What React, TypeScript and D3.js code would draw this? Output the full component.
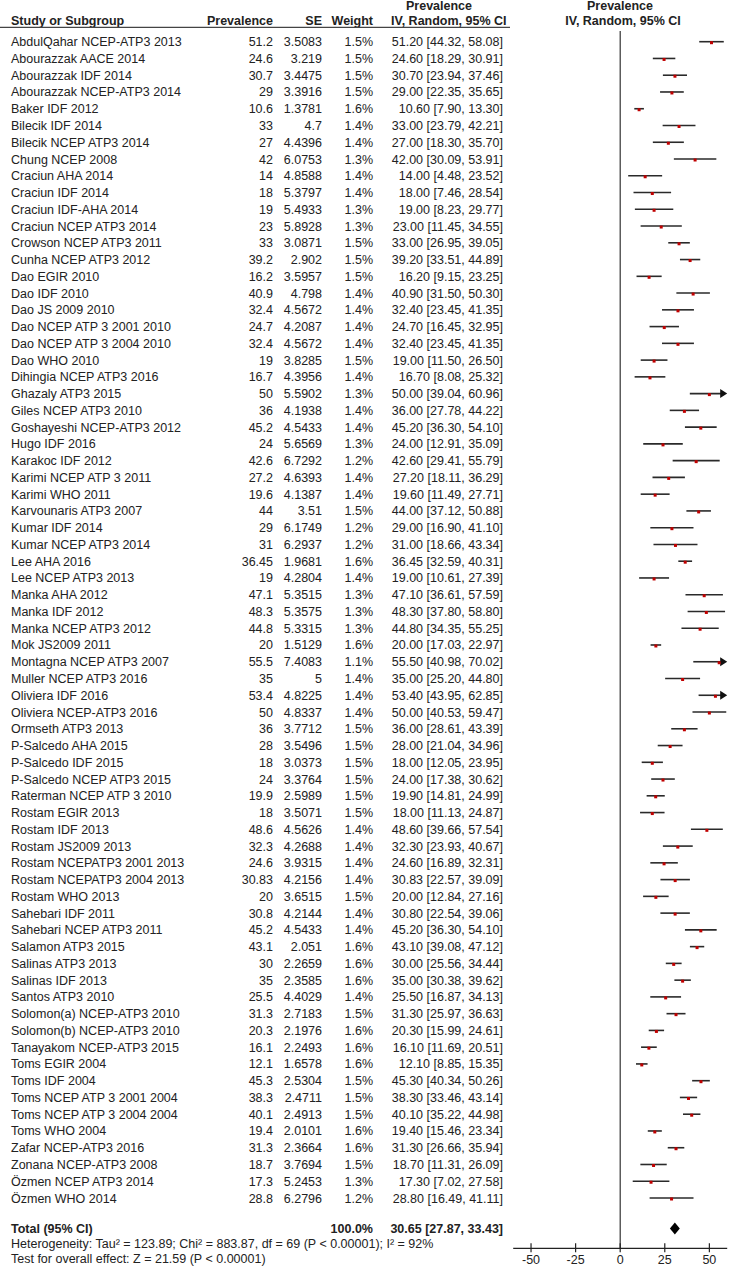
import React from "react";
import * as d3 from "d3";

const studies = [
  "AbdulQahar NCEP-ATP3 2013", "Abourazzak AACE 2014", "Abourazzak IDF 2014", "Abourazzak NCEP-ATP3 2014",
  "Baker IDF 2012", "Bilecik IDF 2014", "Bilecik NCEP ATP3 2014", "Chung NCEP 2008", "Craciun AHA 2014",
  "Craciun IDF 2014", "Craciun IDF-AHA 2014", "Craciun NCEP ATP3 2014", "Crowson NCEP ATP3 2011",
  "Cunha NCEP ATP3 2012", "Dao EGIR 2010", "Dao IDF 2010", "Dao JS 2009 2010", "Dao NCEP ATP 3 2001 2010",
  "Dao NCEP ATP 3 2004 2010", "Dao WHO 2010", "Dihingia NCEP ATP3 2016", "Ghazaly ATP3 2015",
  "Giles NCEP ATP3  2010", "Goshayeshi NCEP-ATP3 2012", "Hugo IDF 2016", "Karakoc IDF 2012",
  "Karimi NCEP ATP 3 2011", "Karimi WHO 2011", "Karvounaris ATP3 2007", "Kumar IDF 2014",
  "Kumar NCEP ATP3 2014", "Lee AHA 2016", "Lee NCEP ATP3 2013", "Manka AHA 2012", "Manka IDF 2012",
  "Manka NCEP ATP3 2012", "Mok JS2009 2011", "Montagna NCEP ATP3 2007", "Muller NCEP ATP3 2016",
  "Oliviera IDF 2016", "Oliviera NCEP-ATP3 2016", "Ormseth ATP3 2013", "P-Salcedo AHA 2015",
  "P-Salcedo IDF 2015", "P-Salcedo NCEP ATP3 2015", "Raterman NCEP ATP 3 2010", "Rostam EGIR 2013",
  "Rostam IDF 2013", "Rostam JS2009 2013", "Rostam NCEPATP3 2001 2013", "Rostam NCEPATP3 2004 2013",
  "Rostam WHO 2013", "Sahebari IDF 2011", "Sahebari NCEP ATP3 2011", "Salamon ATP3 2015",
  "Salinas ATP3 2013", "Salinas IDF 2013", "Santos ATP3 2010", "Solomon(a) NCEP-ATP3 2010",
  "Solomon(b) NCEP-ATP3 2010", "Tanayakom NCEP-ATP3 2015", "Toms EGIR 2004", "Toms IDF 2004",
  "Toms NCEP ATP 3 2001 2004", "Toms NCEP ATP 3 2004 2004", "Toms WHO 2004", "Zafar NCEP-ATP3 2016",
  "Zonana NCEP-ATP3 2008", "Özmen NCEP ATP3 2014", "Özmen WHO 2014",
];

const prevalence = [
  51.2, 24.6, 30.7, 29, 10.6, 33, 27, 42, 14, 18, 19, 23, 33, 39.2, 16.2, 40.9, 32.4, 24.7, 32.4, 19,
  16.7, 50, 36, 45.2, 24, 42.6, 27.2, 19.6, 44, 29, 31, 36.45, 19, 47.1, 48.3, 44.8, 20, 55.5, 35, 53.4,
  50, 36, 28, 18, 24, 19.9, 18, 48.6, 32.3, 24.6, 30.83, 20, 30.8, 45.2, 43.1, 30, 35, 25.5, 31.3, 20.3,
  16.1, 12.1, 45.3, 38.3, 40.1, 19.4, 31.3, 18.7, 17.3, 28.8,
];

const se = [
  3.5083, 3.219, 3.4475, 3.3916, 1.3781, 4.7, 4.4396, 6.0753, 4.8588, 5.3797, 5.4933, 5.8928, 3.0871,
  2.902, 3.5957, 4.798, 4.5672, 4.2087, 4.5672, 3.8285, 4.3956, 5.5902, 4.1938, 4.5433, 5.6569, 6.7292,
  4.6393, 4.1387, 3.51, 6.1749, 6.2937, 1.9681, 4.2804, 5.3515, 5.3575, 5.3315, 1.5129, 7.4083, 5,
  4.8225, 4.8337, 3.7712, 3.5496, 3.0373, 3.3764, 2.5989, 3.5071, 4.5626, 4.2688, 3.9315, 4.2156,
  3.6515, 4.2144, 4.5433, 2.051, 2.2659, 2.3585, 4.4029, 2.7183, 2.1976, 2.2493, 1.6578, 2.5304,
  2.4711, 2.4913, 2.0101, 2.3664, 3.7694, 5.2453, 6.2796,
];

const weights = [
  1.5, 1.5, 1.5, 1.5, 1.6, 1.4, 1.4, 1.3, 1.4, 1.4, 1.3, 1.3, 1.5, 1.5, 1.5, 1.4, 1.4, 1.4, 1.4, 1.5,
  1.4, 1.3, 1.4, 1.4, 1.3, 1.2, 1.4, 1.4, 1.5, 1.2, 1.2, 1.6, 1.4, 1.3, 1.3, 1.3, 1.6, 1.1, 1.4, 1.4,
  1.4, 1.5, 1.5, 1.5, 1.5, 1.5, 1.5, 1.4, 1.4, 1.4, 1.4, 1.5, 1.4, 1.4, 1.6, 1.6, 1.6, 1.4, 1.5, 1.6,
  1.6, 1.6, 1.5, 1.5, 1.5, 1.6, 1.6, 1.5, 1.3, 1.2,
];

const lower = [
  44.32, 18.29, 23.94, 22.35, 7.9, 23.79, 18.3, 30.09, 4.48, 7.46, 8.23, 11.45, 26.95, 33.51, 9.15,
  31.5, 23.45, 16.45, 23.45, 11.5, 8.08, 39.04, 27.78, 36.3, 12.91, 29.41, 18.11, 11.49, 37.12, 16.9,
  18.66, 32.59, 10.61, 36.61, 37.8, 34.35, 17.03, 40.98, 25.2, 43.95, 40.53, 28.61, 21.04, 12.05,
  17.38, 14.81, 11.13, 39.66, 23.93, 16.89, 22.57, 12.84, 22.54, 36.3, 39.08, 25.56, 30.38, 16.87,
  25.97, 15.99, 11.69, 8.85, 40.34, 33.46, 35.22, 15.46, 26.66, 11.31, 7.02, 16.49,
];

const upper = [
  58.08, 30.91, 37.46, 35.65, 13.3, 42.21, 35.7, 53.91, 23.52, 28.54, 29.77, 34.55, 39.05, 44.89,
  23.25, 50.3, 41.35, 32.95, 41.35, 26.5, 25.32, 60.96, 44.22, 54.1, 35.09, 55.79, 36.29, 27.71, 50.88,
  41.1, 43.34, 40.31, 27.39, 57.59, 58.8, 55.25, 22.97, 70.02, 44.8, 62.85, 59.47, 43.39, 34.96, 23.95,
  30.62, 24.99, 24.87, 57.54, 40.67, 32.31, 39.09, 27.16, 39.06, 54.1, 47.12, 34.44, 39.62, 34.13,
  36.63, 24.61, 20.51, 15.35, 50.26, 43.14, 44.98, 23.34, 35.94, 26.09, 27.58, 41.11,
];

const totalEst = 30.65;
const totalLower = 27.87;
const totalUpper = 33.43;
const axisTicks = [-50, -25, 0, 25, 50];
const heterogeneityText = "Heterogeneity: Tau² = 123.89; Chi² = 883.87, df = 69 (P < 0.00001); I² = 92%";
const overallText = "Test for overall effect: Z = 21.59 (P < 0.00001)";

const FONT = "'Liberation Sans', Arial, Helvetica, sans-serif";
const FS = 12.5;

export default function App() {
  const x = d3.scaleLinear().domain([-60, 60]).range([513.2, 727.2]);
  const y = d3.scaleLinear().domain([0, studies.length - 1]).range([41.7, 1198]);
  const [dMin, dMax] = x.domain();
  const axisY = 1248.3;
  const totalY = 1228.5;
  const fmt = (v: number) => v.toFixed(2);

  const diamond = d3.line<[number, number]>()([
    [x(totalLower), totalY],
    [x(totalEst), totalY - 6],
    [x(totalUpper), totalY],
    [x(totalEst), totalY + 6],
    [x(totalLower), totalY],
  ]);

  return (
    <svg
      width={739}
      height={1274}
      style={{ position: "absolute", left: 0, top: 0, background: "#fff" }}
      fontFamily={FONT}
      fontSize={FS}
    >
      <rect width={739} height={1274} fill="#fff" />
      {/* Header */}
      <g fontWeight="bold" fill="#222">
        <text x={11} y={24.5}>Study or Subgroup</text>
        <text x={273} y={24.5} textAnchor="end">Prevalence</text>
        <text x={322} y={24.5} textAnchor="end">SE</text>
        <text x={373} y={24.5} textAnchor="end">Weight</text>
        <text x={406} y={9.5}>Prevalence</text>
        <text x={391} y={24.5}>IV, Random, 95% CI</text>
        <text x={620} y={9.5} textAnchor="middle">Prevalence</text>
        <text x={623} y={24.5} textAnchor="middle">IV, Random, 95% CI</text>
      </g>
      <line x1={0} x2={510} y1={27.3} y2={27.3} stroke="#444" strokeWidth={1.2} />

      {/* zero line */}
      <line x1={x(0)} x2={x(0)} y1={31} y2={axisY} stroke="#333" strokeWidth={1.2} />

      {/* Rows */}
      {studies.map((s, i) => {
        const yc = y(i);
        const lo = Math.max(lower[i], dMin);
        const hi = Math.min(upper[i], dMax);
        const arrowR = upper[i] > dMax;
        return (
          <g key={s + i}>
            <text x={11} y={yc + 4.5} fill="#222">{s}</text>
            <text x={273} y={yc + 4.5} textAnchor="end" fill="#222">{String(prevalence[i])}</text>
            <text x={322} y={yc + 4.5} textAnchor="end" fill="#222">{String(se[i])}</text>
            <text x={373} y={yc + 4.5} textAnchor="end" fill="#222">{weights[i].toFixed(1) + "%"}</text>
            <text x={503} y={yc + 4.5} textAnchor="end" fill="#222">
              {`${fmt(prevalence[i])} [${fmt(lower[i])}, ${fmt(upper[i])}]`}
            </text>
            <line
              x1={x(lo)}
              x2={arrowR ? x(hi) - 5 : x(hi)}
              y1={yc}
              y2={yc}
              stroke="#2a2a2a"
              strokeWidth={1.6}
            />
            {arrowR && (
              <path
                d={`M${x(hi) - 7},${yc - 4.5} L${x(hi)},${yc} L${x(hi) - 7},${yc + 4.5} Z`}
                fill="#111"
              />
            )}
            <rect x={x(prevalence[i]) - 1.5} y={yc - 0.5} width={3} height={3} fill="#c00000" />
          </g>
        );
      })}

      {/* Total */}
      <g fontWeight="bold" fill="#222">
        <text x={11} y={totalY + 4.5}>Total (95% CI)</text>
        <text x={373} y={totalY + 4.5} textAnchor="end">100.0%</text>
        <text x={503} y={totalY + 4.5} textAnchor="end">
          {`${fmt(totalEst)} [${fmt(totalLower)}, ${fmt(totalUpper)}]`}
        </text>
      </g>
      <path d={diamond || ""} fill="#000" />

      <text x={11} y={1247.5} fill="#222">{heterogeneityText}</text>
      <text x={11} y={1262.5} fill="#222">{overallText}</text>

      {/* Axis */}
      <line x1={x(dMin)} x2={x(dMax)} y1={axisY} y2={axisY} stroke="#222" strokeWidth={1.2} />
      {axisTicks.map((t) => (
        <g key={t}>
          <line x1={x(t)} x2={x(t)} y1={axisY - 5} y2={axisY + 4} stroke="#222" strokeWidth={1.2} />
          <text x={x(t)} y={1263.5} textAnchor="middle" fill="#222">{t}</text>
        </g>
      ))}
    </svg>
  );
}
